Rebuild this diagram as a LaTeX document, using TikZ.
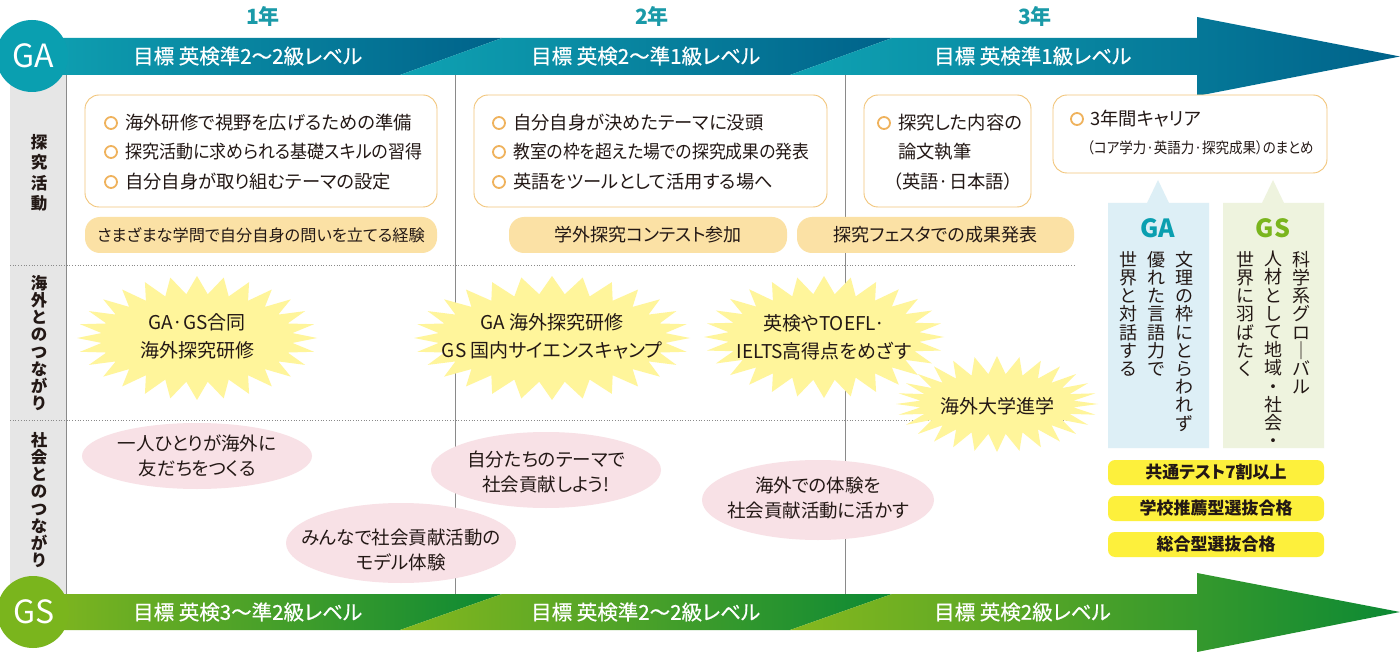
\documentclass[tikz,border=0pt]{standalone}
\usepackage{fontspec}
\setmainfont{Noto Sans CJK JP}[RawFeature={+palt}]
\newfontfamily\plainjp{Noto Sans CJK JP}
\newfontfamily\barfont{Noto Sans CJK JP}[RawFeature={+palt}, FakeBold=0.6]
\definecolor{txt}{HTML}{231815}
\definecolor{galight}{HTML}{0FA3B3}
\definecolor{gadark}{HTML}{00628A}
\definecolor{gslight}{HTML}{86B81E}
\definecolor{gsdark}{HTML}{0C8934}
\definecolor{gacirc}{HTML}{0A9FB0}
\definecolor{gscirc}{HTML}{7AB51D}
\definecolor{colgray}{HTML}{E6E6E6}
\definecolor{linegray}{HTML}{8A8A8A}
\definecolor{boxline}{HTML}{F2C57A}
\definecolor{pillor}{HTML}{FBE1A5}
\definecolor{bulor}{HTML}{EFB25C}
\definecolor{burstc}{HTML}{FFF59B}
\definecolor{pinkc}{HTML}{F8E1E6}
\definecolor{yelc}{HTML}{FDF03C}
\definecolor{gapanel}{HTML}{DDEFF6}
\definecolor{gspanel}{HTML}{EEF3DE}
\definecolor{yearc}{HTML}{1A9AA8}
\newcommand\burstshape[4]{%
  \fill[burstc] plot[domain=0:360, samples=57] ({#1+(#3-12+12*cos(28*\x))*cos(\x)}, {#2+(#4-9+9*cos(28*\x))*sin(\x)}) -- cycle;}
\newcommand\sq[2]{\scalebox{#1}[1]{#2}}
\begin{document}
\begin{tikzpicture}[x=1pt,y=-1pt,
  t/.style={text=txt, inner sep=0pt, font=\fontsize{18.3}{21}\selectfont},
  bartext/.style={text=white, inner sep=0pt, anchor=west, font=\barfont\fontsize{20.5}{22}\selectfont},
  year/.style={text=yearc, inner sep=0pt, font=\fontsize{21}{24}\selectfont\bfseries},
  boxr/.style={draw=boxline, line width=0.9pt, fill=white, rounded corners=14pt},
  pill/.style={fill=pillor, rounded corners=15pt, text=txt, inner sep=0pt, font=\fontsize{16.2}{20}\selectfont},
  ypill/.style={fill=yelc, rounded corners=7pt, text=txt, inner sep=0pt, minimum width=216pt, minimum height=25pt, font=\fontsize{17}{20}\selectfont\bfseries},
  bul/.style={circle, draw=bulor, line width=1.8pt, minimum size=12pt, inner sep=0pt},
  vlab/.style={align=center, text=txt, inner sep=0pt, font=\plainjp\fontsize{16.5}{17.2}\selectfont\bfseries},
  vcol/.style={align=center, text=txt, inner sep=0pt, anchor=north, font=\plainjp\fontsize{18}{18.2}\selectfont},
  btext/.style={align=center, text=txt, inner sep=0pt, font=\fontsize{19}{28}\selectfont},
  etext/.style={align=center, text=txt, inner sep=0pt, font=\fontsize{18.5}{25}\selectfont},
  sep/.style={draw=linegray, line width=0.8pt},
  dotl/.style={draw=linegray, line width=0.7pt, dotted}
]
\useasboundingbox (0,0) rectangle (1400,652);
\begin{scope}
\clip (0,0) rectangle (1400,652);
\fill[white] (0,0) rectangle (1400,652);

% left gray column and grid
\fill[colgray] (10,70) rectangle (66,600);
\draw[sep] (66,75) -- (66,594);
\draw[sep] (455,75) -- (455,594);
\draw[sep] (845,75) -- (845,594);
\draw[dotl] (10,265) -- (1075,265);
\draw[dotl] (10,420) -- (1075,420);

% GA bar
\shade[left color=galight, right color=gadark] (20,38) -- (502,38) -- (400,75) -- (20,75) -- cycle;
\shade[left color=galight, right color=gadark] (502,38) -- (892,38) -- (790,75) -- (400,75) -- cycle;
\shade[left color=galight, right color=gadark] (892,38) -- (1197,38) -- (1197,17) -- (1400,56.5) -- (1197,96) -- (1197,75) -- (790,75) -- cycle;
\fill[gacirc] (32,56) circle (36);
\node[text=white, inner sep=0pt, font=\fontsize{32}{34}\selectfont] (ga) at (33,56) {GA};
\node[bartext] (ga1) at (133,56) {目標 英検準2〜2級レベル};
\node[bartext] (ga2) at (531,56) {目標 英検2〜準1級レベル};
\node[bartext] (ga3) at (934,56) {目標 英検準1級レベル};

% GS bar
\shade[left color=gslight, right color=gsdark] (20,594) -- (502,594) -- (400,630) -- (20,630) -- cycle;
\shade[left color=gslight, right color=gsdark] (502,594) -- (892,594) -- (790,630) -- (400,630) -- cycle;
\shade[left color=gslight, right color=gsdark] (892,594) -- (1197,594) -- (1197,573) -- (1400,612) -- (1197,652) -- (1197,630) -- (790,630) -- cycle;
\fill[gscirc] (33,612) circle (36);
\node[text=white, inner sep=0pt, font=\fontsize{32}{34}\selectfont] (gs) at (34,612) {GS};
\node[bartext] (gs1) at (133,612) {目標 英検3〜準2級レベル};
\node[bartext] (gs2) at (531,612) {目標 英検準2〜2級レベル};
\node[bartext] (gs3) at (934,612) {目標 英検2級レベル};

% years
\node[year] (y1) at (263,16) {1年};
\node[year] (y2) at (652,16) {2年};
\node[year] (y3) at (1035,16) {3年};

% left labels
\node[vlab, font=\plainjp\fontsize{16.5}{20.5}\selectfont\bfseries] (l1) at (39,173) {探\\究\\活\\動};
\node[vlab] (l2) at (39,343) {海\\外\\と\\の\\つ\\な\\が\\り};
\node[vlab] (l3) at (39,500) {社\\会\\と\\の\\つ\\な\\が\\り};

% box A
\draw[boxr] (85,95) rectangle (437,207);
\node[bul] (ba1) at (111,123) {};
\node[bul] (ba2) at (111,152) {};
\node[bul] (ba3) at (111,182) {};
\node[t, anchor=west] (ta1) at (125,123) {海外研修で視野を広げるための準備};
\node[t, anchor=west] (ta2) at (125,152) {\sq{0.93}{探究活動に求められる基礎スキルの習得}};
\node[t, anchor=west] (ta3) at (125,182) {自分自身が取り組むテーマの設定};
\node[pill, minimum width=352pt, minimum height=36pt] (pa) at (261,235) {さまざまな学問で自分自身の問いを立てる経験};

% box B
\draw[boxr] (474,95) rectangle (827,207);
\node[bul] (bb1) at (499,123) {};
\node[bul] (bb2) at (499,152) {};
\node[bul] (bb3) at (499,182) {};
\node[t, anchor=west] (tb1) at (513,123) {自分自身が決めたテーマに没頭};
\node[t, anchor=west] (tb2) at (513,152) {\sq{0.92}{教室の枠を超えた場での探究成果の発表}};
\node[t, anchor=west] (tb3) at (513,182) {英語をツールとして活用する場へ};
\node[pill, minimum width=278pt, minimum height=36pt, font=\fontsize{18}{20}\selectfont] (pb) at (648,235) {学外探究コンテスト参加};
\node[pill, minimum width=277pt, minimum height=36pt, font=\fontsize{18}{20}\selectfont] (pc) at (935.5,235) {探究フェスタでの成果発表};

% box C
\draw[boxr] (864,95) rectangle (1031,207);
\node[bul] (bc1) at (884,123) {};
\node[t, anchor=west] (tc1) at (898,123) {探究した内容の};
\node[t, anchor=west] (tc2) at (898,152) {論文執筆};
\node[t, anchor=west] (tc3) at (893,182) {（英語·日本語）};

% box D
\draw[boxr] (1053,95) rectangle (1327,173);
\node[bul] (bd1) at (1077,119) {};
\node[t, anchor=west] (td1) at (1090,119) {3年間キャリア};
\node[t, anchor=west, font=\fontsize{15}{16}\selectfont] (td2) at (1087,148) {\sq{0.9}{（コア学力·英語力·探究成果）のまとめ}};

% GA / GS panels
\fill[gapanel] (1108,203) -- (1147,203) -- (1158,180) -- (1169,203) -- (1209,203) -- (1209,448) -- (1108,448) -- cycle;
\fill[gspanel] (1223,203) -- (1262,203) -- (1273,180) -- (1284,203) -- (1324,203) -- (1324,448) -- (1223,448) -- cycle;
\node[text=gacirc, inner sep=0pt, font=\fontsize{25}{28}\selectfont\bfseries] (pga) at (1158,228) {GA};
\node[text=gscirc, inner sep=0pt, font=\fontsize{25}{28}\selectfont\bfseries] (pgs) at (1273,228) {GS};
\node[vcol] (ga-c1) at (1184,251) {文\\理\\の\\枠\\に\\と\\ら\\わ\\れ\\ず};
\node[vcol] (ga-c2) at (1156,251) {優\\れ\\た\\言\\語\\力\\で};
\node[vcol] (ga-c3) at (1128,251) {世\\界\\と\\対\\話\\す\\る};
\node[vcol] (gs-c1) at (1301,251) {科\\学\\系\\グ\\ロ\\｜\\バ\\ル};
\node[vcol] (gs-c2) at (1273,251) {人\\材\\と\\し\\て\\地\\域\\・\\社\\会\\・};
\node[vcol] (gs-c3) at (1245,251) {世\\界\\に\\羽\\ば\\た\\く};

% yellow pills
\node[ypill] (q1) at (1216,472.5) {共通テスト7割以上};
\node[ypill] (q2) at (1216,508.5) {学校推薦型選抜合格};
\node[ypill] (q3) at (1216,544.5) {総合型選抜合格};

% starbursts
\burstshape{197}{338}{120}{62}
\burstshape{552}{338}{138}{62}
\burstshape{824}{337}{120}{61}
\burstshape{997}{404}{101}{48}
\node[btext] (s1) at (197,336) {GA·GS合同\\海外探究研修};
\node[btext] (s2) at (552,336) {GA 海外探究研修\\GS 国内サイエンスキャンプ};
\node[btext] (s3) at (824,337) {英検やTOEFL·\\IELTS高得点をめざす};
\node[btext] (s4) at (997,406) {海外大学進学};

% ellipses
\fill[pinkc] (197,456) ellipse (115 and 33);
\fill[pinkc] (546,470) ellipse (115 and 38);
\fill[pinkc] (401,543) ellipse (115 and 40);
\fill[pinkc] (818,500) ellipse (116 and 40);
\node[etext] (e1) at (197,456) {一人ひとりが海外に\\友だちをつくる};
\node[etext] (e2) at (546,472) {自分たちのテーマで\\社会貢献しよう!};
\node[etext] (e3) at (401,550) {みんなで社会貢献活動の\\モデル体験};
\node[etext] (e4) at (818,498) {海外での体験を\\社会貢献活動に活かす};
\end{scope}
\end{tikzpicture}
\end{document}
